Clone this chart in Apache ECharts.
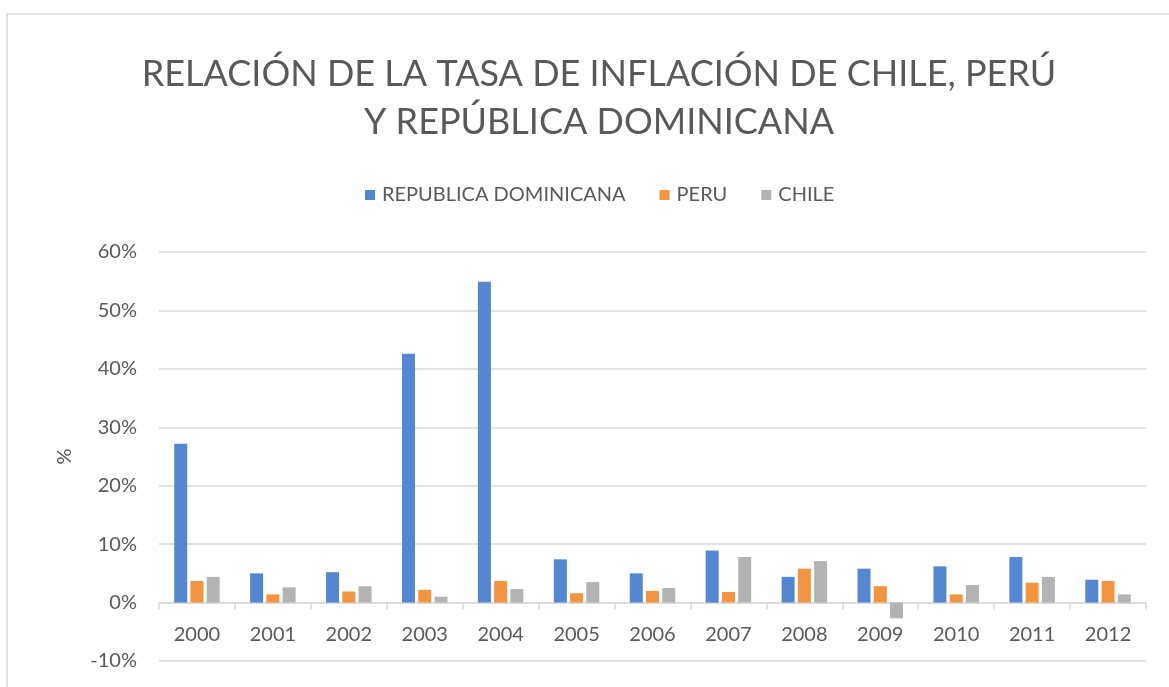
<!DOCTYPE html>
<html>
<head>
<meta charset="utf-8">
<script src="https://cdn.jsdelivr.net/npm/echarts@6/dist/echarts.min.js"></script>
<style>
	html, body { margin: 0; padding: 0; background: #fff; }
	#chart { width: 1169px; height: 687px; }
</style>
</head>
<body>
<div id="chart"></div>
<script>
// años (eje x)
var years = ['2000', '2001', '2002', '2003', '2004', '2005', '2006', '2007', '2008', '2009', '2010', '2011', '2012'];
// tasa de inflacion en %
var repDominicana = [27.2, 5.0, 5.2, 42.6, 54.9, 7.4, 5.0, 8.9, 4.4, 5.8, 6.2, 7.8, 3.9];
var peru = [3.7, 1.4, 1.9, 2.2, 3.7, 1.6, 2.0, 1.8, 5.8, 2.8, 1.4, 3.4, 3.7];
var chile = [4.4, 2.6, 2.8, 1.0, 2.3, 3.5, 2.5, 7.8, 7.1, -2.7, 3.0, 4.4, 1.4];
var seriesNames = ['REPUBLICA DOMINICANA', 'PERU', 'CHILE'];
var seriesColors = ['#5586d2', '#f39440', '#b3b3b3'];
var yMin = -10, yMax = 60, yStep = 10;

var textColor = '#595959';
var lineColor = '#d9d9d9';
var fontName = 'Lato';

function initInflationChart() {
	var myChart = echarts.init(document.getElementById('chart'));
	var allData = [repDominicana, peru, chile];
	var gridTop = 252, gridBottom = 26;
	var plotHeight = 687 - gridTop - gridBottom;
	// el eje de categorias va sobre el 0
	var zeroOffset = -plotHeight * (0 - yMin) / (yMax - yMin);
	var series = [];
	for (var i = 0; i < seriesNames.length; i++) {
		series.push({
			name: seriesNames[i],
			type: 'bar',
			data: allData[i],
			barWidth: 13,
			barGap: '25%',
			itemStyle: { color: seriesColors[i] }
		});
	}
	var option = {
		animation: false,
		textStyle: { fontFamily: fontName },
		color: seriesColors,
		title: {
			text: 'RELACIÓN DE LA TASA DE INFLACIÓN DE CHILE, PERÚ\nY REPÚBLICA DOMINICANA',
			left: 594,
			top: 45,
			textAlign: 'center',
			textStyle: {
				fontFamily: fontName,
				fontSize: 36,
				fontWeight: 'normal',
				color: textColor,
				lineHeight: 48
			}
		},
		legend: {
			data: seriesNames,
			left: 360,
			top: 180,
			itemWidth: 10,
			itemHeight: 10,
			itemGap: 34,
			icon: 'rect',
			textStyle: { fontSize: 20, color: textColor, padding: [0, 0, 0, 2] }
		},
		graphic: [{
			type: 'rect',
			shape: { x: 7, y: 14, width: 1200, height: 700 },
			style: { fill: 'none', stroke: lineColor, lineWidth: 1.5 },
			silent: true
		}],
		grid: { left: 159, right: 23, top: gridTop, bottom: gridBottom, containLabel: false, outerBoundsMode: 'none' },
		xAxis: {
			type: 'category',
			data: years,
			offset: zeroOffset,
			axisLine: { onZero: false, lineStyle: { color: lineColor, width: 1.5 } },
			axisTick: { show: true, length: 7, lineStyle: { color: lineColor, width: 1.5 } },
			axisLabel: { fontSize: 20, color: textColor, margin: 22 }
		},
		yAxis: {
			type: 'value',
			min: yMin,
			max: yMax,
			interval: yStep,
			name: '%',
			nameLocation: 'middle',
			nameRotate: 90,
			nameGap: 84,
			nameTextStyle: { fontSize: 20, color: textColor },
			axisLine: { show: false },
			axisTick: { show: false },
			axisLabel: { fontSize: 20, color: textColor, margin: 22, formatter: '{value}%' },
			splitLine: { lineStyle: { color: lineColor, width: 1.5 } }
		},
		series: series
	};
	myChart.setOption(option);
}
initInflationChart();
</script>
</body>
</html>
